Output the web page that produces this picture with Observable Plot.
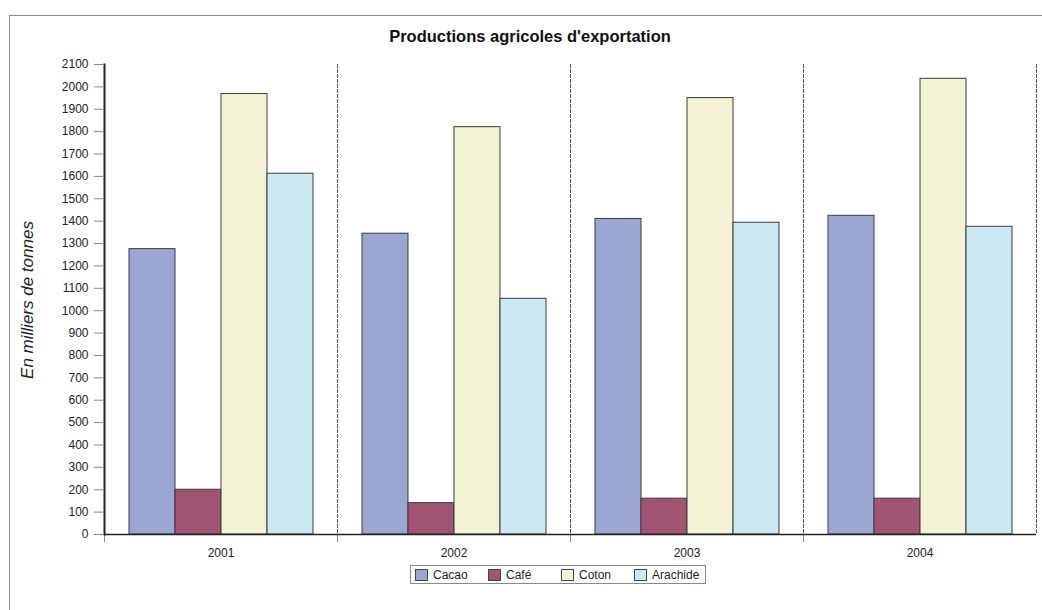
<!DOCTYPE html>
<html>
<head>
<meta charset="utf-8">
<script src="https://cdn.jsdelivr.net/npm/d3@7"></script>
<script src="https://cdn.jsdelivr.net/npm/@observablehq/plot@0.6"></script>
<style>
  html, body { margin: 0; padding: 0; background: #fff; overflow: hidden; width: 1042px; height: 610px; }
  body { position: relative; font-family: "Liberation Sans", Arial, sans-serif; color: #222; }
  #frame { position: absolute; left: 9px; top: 15px; width: 1200px; height: 800px; border: 1.5px solid #8a8a8a; pointer-events: none; box-sizing: border-box; }
  #title { position: absolute; left: 0; top: 27px; width: 1060px; text-align: center; font-weight: bold; font-size: 16.5px; color: #111; }
  #ylabel { position: absolute; left: -122px; top: 290px; width: 300px; text-align: center; font-size: 17px; font-style: italic; color: #222; transform: rotate(-90deg); transform-origin: 150px 10px; line-height: 20px; }
  #chart { position: absolute; left: 0; top: 0; }
  #legend { position: absolute; left: 410px; top: 565px; width: 296px; height: 19px; border: 1px solid #888; box-sizing: border-box; display: flex; align-items: center; font-size: 12px; color: #222; }
  #legend .item { width: 73px; display: flex; align-items: center; padding-left: 4px; box-sizing: border-box; }
  #legend .sw { width: 13px; height: 12px; border: 1px solid #444; box-sizing: border-box; margin-right: 5px; flex: none; }
</style>
</head>
<body>
<div id="chart"></div>
<div id="title"></div>
<div id="ylabel"></div>
<div id="legend"></div>
<div id="frame"></div>
<script>
const title = "Productions agricoles d'exportation";
const yLabel = "En milliers de tonnes";
const years = [2001, 2002, 2003, 2004];
const series = ["Cacao", "Café", "Coton", "Arachide"];
const cacao = [1275, 1344, 1410, 1424];
const cafe = [200, 140, 160, 160];
const coton = [1968, 1820, 1950, 2036];
const arachide = [1612, 1053, 1393, 1375];
const yTicks = [0, 100, 200, 300, 400, 500, 600, 700, 800, 900, 1000, 1100, 1200, 1300, 1400, 1500, 1600, 1700, 1800, 1900, 2000, 2100];
const colors = ["#9ba6d3", "#a25475", "#f3f2d5", "#cce8f3"];

const valuesBySeries = [cacao, cafe, coton, arachide];
const data = [];
years.forEach((yr, i) => series.forEach((s, j) => data.push({year: yr, series: s, value: valuesBySeries[j][i]})));

const W = 1042, H = 560, mTop = 64, mBottom = 26, mLeft = 104, mRight = 6;
const plotH = H - mTop - mBottom;

const chart = Plot.plot({
  width: W, height: H,
  marginTop: mTop, marginBottom: mBottom, marginLeft: mLeft, marginRight: mRight,
  style: {background: "transparent", fontFamily: "Liberation Sans, Arial, sans-serif", fontSize: "12px", color: "#222"},
  fx: {domain: years, padding: 0, label: null, tickFormat: d => String(d)},
  x: {domain: series, paddingInner: 0, paddingOuter: 0.5, axis: null},
  y: {domain: [0, 2100], label: null},
  color: {domain: series, range: colors},
  marks: [
    Plot.frame({anchor: "right", stroke: "#555", strokeDasharray: "3,2"}),
    Plot.frame({anchor: "left", insetTop: plotH, insetBottom: -7, stroke: "#888"}),
    Plot.barY(data, {fx: "year", x: "series", y: "value", fill: "series", stroke: "#3a3a3a", strokeWidth: 1}),
    Plot.ruleY([0], {stroke: "#222", strokeWidth: 1.5}),
    Plot.frame({anchor: "left", facetAnchor: "left", stroke: "#222", strokeWidth: 2}),
    Plot.axisY({ticks: yTicks, tickFormat: d => String(d), tickSize: 10, tickPadding: 6, stroke: "#888", fill: "#222", label: null}),
    Plot.axisFx({anchor: "bottom", tickSize: 0, tickPadding: 14, label: null, fill: "#222", tickFormat: d => String(d)})
  ]
});
document.getElementById("chart").appendChild(chart);

document.getElementById("title").textContent = title;
document.getElementById("ylabel").textContent = yLabel;
const legend = document.getElementById("legend");
series.forEach((s, i) => {
  const item = document.createElement("div");
  item.className = "item";
  const sw = document.createElement("span");
  sw.className = "sw";
  sw.style.background = colors[i];
  const t = document.createElement("span");
  t.textContent = s;
  item.appendChild(sw);
  item.appendChild(t);
  legend.appendChild(item);
});
</script>
</body>
</html>
